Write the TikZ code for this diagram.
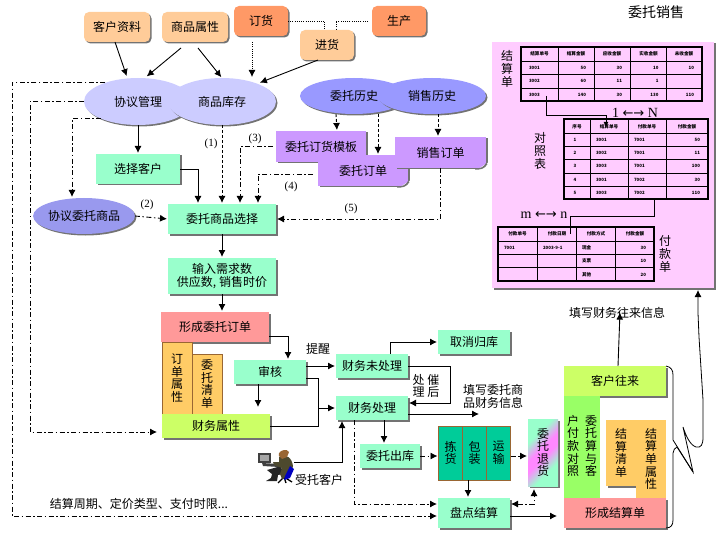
\documentclass[tikz,border=0pt]{standalone}
\usepackage{fontspec}
\setmainfont{Noto Sans CJK SC}
\newfontfamily\serf{Liberation Serif}
\newfontfamily\dejav{DejaVu Sans}
\usetikzlibrary{arrows.meta,shapes.geometric,shadows,calc}
\definecolor{cPeach}{HTML}{FFCC99}
\definecolor{cOrange}{HTML}{FF9966}
\definecolor{cLav}{HTML}{CCCCFF}
\definecolor{cPeri}{HTML}{9999FF}
\definecolor{cPeriD}{HTML}{9999EE}
\definecolor{cAqua}{HTML}{99FFCC}
\definecolor{cPurple}{HTML}{CC99FF}
\definecolor{cRed}{HTML}{FF9999}
\definecolor{cGold}{HTML}{FFCC66}
\definecolor{cLime}{HTML}{CCFF66}
\definecolor{cGreen}{HTML}{99FF66}
\definecolor{cTeal}{HTML}{00CC99}
\definecolor{cBrown}{HTML}{996633}
\definecolor{cPink}{HTML}{FFCCFF}
\definecolor{cMag}{HTML}{FF88FF}
\pgfdeclareverticalshading{thgrad}{100bp}{color(0bp)=(cAqua); color(32bp)=(cAqua); color(46bp)=(cMag); color(54bp)=(cMag); color(68bp)=(cAqua); color(100bp)=(cAqua)}
\tikzset{
 shd/.style={drop shadow={shadow xshift=1.5pt,shadow yshift=-1.5pt,fill=black!55,opacity=1}},
 base/.style={inner sep=0pt,outer sep=0pt,align=center,font=\fontsize{12}{12.6}\selectfont,text=black},
 box/.style={base,shd,fill=#1,minimum width=72pt,minimum height=24pt},
 rbox/.style={base,shd,fill=#1,rounded corners=5pt},
 ell/.style={base,shd,ellipse,fill=#1,minimum width=108pt,minimum height=36pt},
 flat/.style={base,fill=#1},
 lab/.style={base},
 num/.style={base,font=\serf\fontsize{11}{12}\selectfont},
 ln/.style={line width=0.9pt},
 ar/.style={ln,-{Latex[length=7pt,width=7pt]},shorten >=1pt},
 dd/.style={ar,dash pattern=on 5pt off 2.5pt on 1.5pt off 2.5pt},
 ds/.style={ar,dash pattern=on 3pt off 2pt},
 dt/.style={line width=0.8pt,dash pattern=on 1pt off 1.2pt},
 cellh/.style={base,font=\bfseries\fontsize{4.6}{5}\selectfont},
 celln/.style={base,font=\bfseries\fontsize{4.4}{5}\selectfont},
 tfr/.style={line width=1.5pt},
 tgl/.style={line width=0.8pt},
}
\newcommand\foldcorner[1]{%
 \begin{scope}[shift={(#1.south east)}]
  \fill[white] (-11,3) -- (3,3) -- (3,-6) -- cycle;
  \fill[black!55] (-11,0) .. controls (-6,1) and (-2,-1) .. (0,-5) -- (1.5,-4) .. controls (-1,1) and (-6,2) .. (-11,1.5) -- cycle;
 \end{scope}}
\newcommand\relarrow{{\dejav\fontsize{13}{15}\selectfont ←→}}
\begin{document}
\begin{tikzpicture}[x=1pt,y=-1pt]
\useasboundingbox (0,0) rectangle (720,540);
% top boxes
\node[rbox=cPeach,minimum width=66pt,minimum height=30pt] (kz) at (117,27) {客户资料};
\node[rbox=cPeach,minimum width=66pt,minimum height=30pt] (sx) at (195,27) {商品属性};
\node[rbox=cOrange,minimum width=54pt,minimum height=30pt] (dh) at (261,21) {订货};
\node[rbox=cOrange,minimum width=54pt,minimum height=30pt] (sc) at (399,21) {生产};
\node[rbox=cPeach,minimum width=54pt,minimum height=30pt] (jh) at (327,45) {进货};
% ellipses
\node[ell=cLav,minimum height=47pt] (xy) at (138,101.5) {协议管理};
\node[ell=cLav,minimum height=47pt] (kc) at (222,101.5) {商品库存};
\node[ell=cPeri] (wh) at (354,96) {委托历史};
\node[ell=cPeri] (xh) at (432,96) {销售历史};
\node[ell=cPeriD,minimum width=96pt] (xw) at (84,216) {协议委托商品};
% note boxes
\node[box=cPurple,minimum width=90pt,minimum height=31pt] (mb) at (321,146.5) {委托订货模板};
\node[box=cPurple,minimum width=90pt,minimum height=31pt] (wd) at (363,170.5) {委托订单};
\foldcorner{wd}
\node[box=cPurple,minimum width=91pt,minimum height=31pt] (xd) at (440.5,152.5) {销售订单};
\foldcorner{xd}
% aqua column
\node[box=cAqua,minimum width=84pt,minimum height=30pt] (xk) at (138,169) {选择客户};
\node[box=cAqua,minimum width=108pt,minimum height=30pt] (xz) at (222,219) {委托商品选择};
\node[box=cAqua,minimum width=108pt,minimum height=36pt] (sr) at (222,276) {输入需求数\\供应数, 销售时价};
\node[box=cRed,minimum width=108pt,minimum height=30pt] (xc) at (215,327) {形成委托订单};
\node[flat=cGold,draw=cBrown,line width=0.6pt,minimum width=30pt,minimum height=72pt] (dd) at (177,378) {订\\单\\属\\性};
\node[flat=cGold,draw=cBrown,line width=0.6pt,minimum width=30pt,minimum height=60pt] (wq) at (207,384) {委\\托\\清\\单};
\node[box=cLime,minimum width=108pt,minimum height=24pt] (cs) at (216,426) {财务属性};
\node[box=cAqua] (sh) at (270,372) {审核};
\node[box=cAqua] (cw) at (372,366) {财务未处理};
\node[box=cAqua] (qx) at (474,342) {取消归库};
\node[box=cAqua] (cc) at (372,408) {财务处理};
\node[box=cAqua,minimum width=60pt] (ck) at (390,456) {委托出库};
% pick / pack / ship
\node[flat=cTeal,draw=cBrown,line width=0.9pt,minimum width=24pt,minimum height=54pt] (jd) at (450.5,453) {拣\\货};
\node[flat=cTeal,draw=cBrown,line width=0.9pt,minimum width=24pt,minimum height=54pt] (bz) at (474.5,453) {包\\装};
\node[flat=cTeal,draw=cBrown,line width=0.9pt,minimum width=24pt,minimum height=54pt] (ys) at (498.5,453) {运\\输};
\node[base,shd,minimum width=30pt,minimum height=67pt,shade,shading=thgrad,shading angle=45] (th) at (543,452.5) {委\\托\\退\\货};
\node[box=cAqua,minimum width=72pt,minimum height=30pt] (pd) at (474,513) {盘点结算};
% right settlement group
\node[box=cLime,minimum width=102pt,minimum height=30pt] (kw) at (615,381) {客户往来};
\node[flat=cGreen,minimum width=36pt,minimum height=102pt] (ws) at (582,447) {};
\node[base] (wsa) at (591,446) {委\\托\\算\\与\\客};
\node[base] (wsb) at (573,446) {户\\付\\款\\对\\照};
\node[box=cGold,minimum width=30pt,minimum height=66pt] (jq) at (621,453) {结\\算\\清\\单};
\node[flat=cGold,minimum width=30pt,minimum height=78pt] (js) at (651,459) {结\\算\\单\\属\\性};
\node[box=cRed,minimum width=102pt,minimum height=30pt] (xj) at (615,513) {形成结算单};
% pink panel
\node[base,shd,fill=cPink,minimum width=222pt,minimum height=246pt] (pk) at (603,165) {};
\node[lab,font=\fontsize{14}{16}\selectfont] (tt) at (656,12) {委托销售};
\node[lab] (l1) at (507,69) {结\\算\\单};
\node[lab] (l2) at (540,151) {对\\照\\表};
\node[lab] (l3) at (665,254) {付\\款\\单};
\node[lab,font=\serf\fontsize{14}{16}\selectfont] (rn1) at (635,113) {1 \relarrow{} N};
\node[lab,font=\serf\fontsize{14}{16}\selectfont] (rn2) at (544,215) {m \relarrow{} n};
% tables
\coordinate (t1a) at (521,47); \coordinate (t1b) at (702,101);
\draw[tgl] (558,47)--(558,101) (594,47)--(594,101) (630.5,47)--(630.5,101) (666.5,47)--(666.5,101)
 (521,61)--(702,61) (521,74.5)--(702,74.5) (521,88)--(702,88);
\draw[tfr] (t1a) rectangle (t1b);
\coordinate (t2a) at (564,119); \coordinate (t2b) at (708,199);
\draw[tgl] (590,119)--(590,199) (628,119)--(628,199) (666.5,119)--(666.5,199)
 (564,133)--(708,133) (564,146.5)--(708,146.5) (564,159.5)--(708,159.5) (564,173)--(708,173) (564,186)--(708,186);
\draw[tfr] (t2a) rectangle (t2b);
\coordinate (t3a) at (498,227); \coordinate (t3b) at (654,281);
\draw[tgl] (537.5,227)--(537.5,281) (576.5,227)--(576.5,281) (615.5,227)--(615.5,281)
 (498,241)--(654,241) (498,254.5)--(654,254.5) (498,267.5)--(654,267.5);
\draw[tfr] (t3a) rectangle (t3b);
% table texts
\foreach \x/\t in {539.5/结算单号,576/结算金额,612/应收金额,648.5/实收金额,684/未收金额}
  \node[cellh] at (\x,54) {\t};
\foreach \y/\a/\b/\c/\d/\e in {67.5/3001/50/30/10/10,81/3002/60/11/1/,94.5/3003/140/30/130/110}{
  \node[celln,anchor=west] at (529,\y) {\a};
  \node[celln,anchor=east] at (586,\y) {\b};
  \node[celln,anchor=east] at (622,\y) {\c};
  \node[celln,anchor=east] at (658.5,\y) {\d};
  \node[celln,anchor=east] at (694,\y) {\e};}
\foreach \x/\t in {577/序号,609/结算单号,647/付款单号,687/付款金额}
  \node[cellh] at (\x,126.5) {\t};
\foreach \y/\a/\b/\c/\d in {140/1/3001/7001/50,153/2/3002/7001/11,166/3/3003/7001/100,179.5/4/3001/7002/30,192.5/5/3003/7002/110}{
  \node[celln] at (575,\y) {\a};
  \node[celln,anchor=west] at (596,\y) {\b};
  \node[celln,anchor=west] at (634,\y) {\c};
  \node[celln,anchor=east] at (700,\y) {\d};}
\foreach \x/\t in {517.5/付款单号,557/付款日期,596/付款方式,635/付款金额}
  \node[cellh] at (\x,234) {\t};
\node[celln,anchor=west] at (504,248) {7001};
\node[celln,anchor=west] at (543,248) {2003-9-1};
\foreach \y/\a/\b in {248/现金/30,261/支票/10,274.5/其他/20}{
  \node[cellh,anchor=west] at (582,\y) {\a};
  \node[celln,anchor=east] at (646,\y) {\b};}
% other labels
\node[num] (n1) at (211,144) {(1)};
\node[num] (n2) at (147,205) {(2)};
\node[num] (n3) at (255,139) {(3)};
\node[num] (n4) at (291,187) {(4)};
\node[num] (n5) at (351,209) {(5)};
\node[lab] (tx) at (318,349) {提醒};
\node[lab] (cl1) at (426,380) {处 催};
\node[lab] (cl2) at (426,391.5) {理 后};
\node[lab] (tw) at (493,396.5) {填写委托商\\品财务信息};
\node[lab] (kh) at (319,480) {受托客户};
\node[lab] (zq) at (139,504) {结算周期、定价类型、支付时限...};
\node[lab] (tc) at (617,313) {填写财务往来信息};
% person
\begin{scope}
 \fill[black!75] (258,453) rectangle (271,463);
 \fill[black!35] (260,455) rectangle (269,461);
 \fill[black!75] (262,463) -- (278,464) -- (279,467) -- (263,466) -- cycle;
 \fill[black!85] (267,470) -- (281,466) -- (283,474) -- (278,475) -- (277,481) -- (266,481) -- (271,478) -- (272,474) -- cycle;
 \draw[black,line width=1.3pt] (284,477) -- (278,483) (284,477) -- (286,483) (284,477) -- (292,482);
 \fill[black!60!olive] (279,457) .. controls (286,453) and (292,458) .. (293,466) .. controls (293,472) and (288,477) .. (282,479) -- (280,474) -- (282,468) -- (274,465) -- (273,462) -- (279,462) -- cycle;
 \fill[blue!75!black] (290,466) -- (294,469) -- (290,478) -- (284,480) -- (285,476) -- cycle;
 \fill[cBrown] (284,450) .. controls (281,451) and (278,452) .. (279,456) -- (282,459) -- (287,457) -- (289,452) .. controls (288,450) and (286,450) .. (284,450) -- cycle;
\end{scope}
\coordinate (ps) at (294,462);
% coordinates
\coordinate (c1) at (12,516);
\coordinate (c2) at (30,432);
\coordinate (j1) at (318,378);
\coordinate (j2) at (318,408);
\coordinate (j3) at (450,403);
\coordinate (e1) at (480,414);
\coordinate (br1) at (673,375);
% connectors top
\draw[ar] ([xshift=-2pt]kz.south) -- (127,77);
\draw[ar] ([xshift=-14pt,yshift=-6pt]sx.south) -- (146,77);
\draw[ar] ([xshift=3pt,yshift=-6pt]sx.south) -- (kc.north);
\draw[ar,dt] ([xshift=-9pt,yshift=-6pt]dh.south) -- (252,78);
\draw[ar] ([xshift=-9pt]jh.south) -- (259,83);
\draw[dt] (dh.east) -| ([xshift=-2.5pt]jh.north);
\draw[dt] ([xshift=-4pt]sc.west) -| ([xshift=9pt]jh.north);
% left dash loops
\draw[dd] (xy.150) -| (c1) -- ([yshift=-3pt]pd.west);
\draw[dd,shorten >=5pt] (xy.180) -| (c2) -- (cs.west |- c2);
\draw[dd] (xy.205) -| ([xshift=-12pt]xw.north);
\draw[ar] (xy.south) -- (xk.north);
\draw[ar] (xk.east) -| ([xshift=-24pt]xz.north);
\draw[ds] (kc.south) -- (xz.north);
\draw[dd] (xw.east) -- (xz.west);
\draw[dd] ([xshift=-3pt]mb.west) -| ([xshift=18pt]xz.north);
\draw[dd] ([xshift=-5pt,yshift=-3.5pt]wd.west) -| ([xshift=36pt]xz.north);
\draw[dd] (xd.south) |- (xz.east);
\draw[ds] ([xshift=-18pt]wh.south) -- ([xshift=16pt]mb.north);
\draw[ds] ([xshift=24pt]wh.south) -- ([xshift=15pt]wd.north);
\draw[ds] ([xshift=6pt]xh.south) -- ([xshift=-2.5pt]xd.north);
\draw[ar] (xz.south) -- (sr.north);
\draw[ar] (sr.south) -- ([xshift=7pt]xc.north);
\draw[ar] ([yshift=-9pt]xc.east) -| ([xshift=18pt]sh.north);
\draw[ar] ([xshift=-12pt]sh.south) -- ([xshift=42pt,yshift=6pt]cs.north);
\draw[ar] ([yshift=6pt]sh.east) -- (cw.west);
\draw[ln] ([yshift=-6pt]sh.east) -- (j1) |- (cs.east);
\draw[ar] (j2) -- (cc.west);
\draw[ar] ([xshift=18pt]cw.north) |- (qx.west);
\draw[ar] (cw.east) -| (j3) -- ([yshift=5pt]cc.east);
\draw[ar] ([yshift=-6pt]cc.east) -- (e1);
\draw[ar] ([xshift=12pt]cc.south) -- ([xshift=-6pt]ck.north);
\draw[dd] ([xshift=-18pt]cc.south) |- ([yshift=9pt]pd.west);
\draw[dd] (ck.east) -- (ck.east -| jd.west);
\draw[dd] (ys.east |- ck.east) -- (th.west |- ck.east);
\draw[ar] ([xshift=-6.5pt]bz.south) -- ([xshift=-6pt]pd.north);
\draw[dd,{Latex[length=7pt,width=7pt]}-{Latex[length=7pt,width=7pt]},shorten <=1pt] ([yshift=9pt]pd.east) -| ([xshift=-9pt,yshift=-2pt]th.south);
\draw[ar,shorten >=7pt] ([yshift=-3pt]pd.east) -- ([yshift=-3pt]xj.west);
\draw[ar] (ps) -| ([xshift=-30pt]cc.south);
\draw[ar] (kw.north) ++(3pt,0) -- ([xshift=3pt,yshift=7pt]tc.south);
% table links
\draw[line width=0.8pt,-{Latex[length=5pt,width=5pt]}] (546,96) -- (546,115) -| (606,127);
\draw[line width=0.8pt] (t3b |- t2b) -- (654,216) -| (570,234);
% brace with callout up to the panel
\draw[ar,line width=0.8pt] (kw.north east) .. controls (671,367) and (673,370) .. (br1) -- (673,440)
  -- (693,472) -- (683,427) .. controls (686,436) and (690,445) .. (696,447) .. controls (701,448) and (703,445) .. (703,437) -- (703,400) -- (699,337) -- (698,313) -- (698,289);
\draw[line width=0.8pt] (693,472) -- (677,447) .. controls (675,448) and (673,450) .. (673,453) -- (673,520) .. controls (673,525) and (671,528) .. (xj.south east);
\end{tikzpicture}
\end{document}
